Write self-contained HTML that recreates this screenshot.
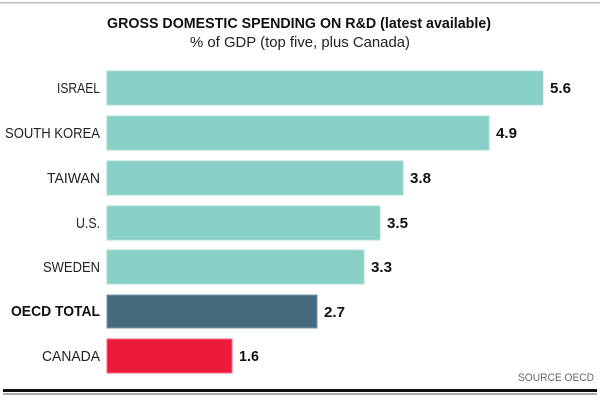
<!DOCTYPE html>
<html><head><meta charset="utf-8"><style>
html,body{margin:0;padding:0;background:#fff;}
svg{display:block;font-family:"Liberation Sans",sans-serif;}
</style></head><body>
<svg width="600" height="400" viewBox="0 0 600 400">
<rect x="0" y="2" width="600" height="1.5" fill="#bbb"/>
<text x="107" y="28" textLength="384" lengthAdjust="spacingAndGlyphs" font-size="15" font-weight="bold" fill="#111">GROSS DOMESTIC SPENDING ON R&amp;D (latest available)</text>
<text x="190" y="47" textLength="220" lengthAdjust="spacingAndGlyphs" font-size="14.5" fill="#222">% of GDP (top five, plus Canada)</text>
<g font-size="14.5" fill="#222">
<text x="57" y="93" textLength="43" lengthAdjust="spacingAndGlyphs">ISRAEL</text>
<text x="5" y="138" textLength="95" lengthAdjust="spacingAndGlyphs">SOUTH KOREA</text>
<text x="47" y="183" textLength="53" lengthAdjust="spacingAndGlyphs">TAIWAN</text>
<text x="76" y="228" textLength="24" lengthAdjust="spacingAndGlyphs">U.S.</text>
<text x="43" y="272" textLength="57" lengthAdjust="spacingAndGlyphs">SWEDEN</text>
<text x="11" y="316" textLength="89" lengthAdjust="spacingAndGlyphs" font-weight="bold" fill="#111" font-size="15">OECD TOTAL</text>
<text x="42" y="361" textLength="58" lengthAdjust="spacingAndGlyphs">CANADA</text>
</g>
<g stroke-width="1">
<rect x="107" y="71" width="436" height="34" fill="#88d0c6" stroke="#a8dcd4"/>
<rect x="107" y="116" width="382" height="34" fill="#88d0c6" stroke="#a8dcd4"/>
<rect x="107" y="161" width="296" height="34" fill="#88d0c6" stroke="#a8dcd4"/>
<rect x="107" y="206" width="273" height="34" fill="#88d0c6" stroke="#a8dcd4"/>
<rect x="107" y="250" width="257" height="34" fill="#88d0c6" stroke="#a8dcd4"/>
<rect x="107" y="295" width="210" height="33" fill="#456b7f" stroke="#7a9aaa"/>
<rect x="107" y="339" width="125" height="34" fill="#ee1a3c" stroke="#f06a80"/>
</g>
<g font-size="15" font-weight="bold" fill="#111">
<text x="550" y="93" textLength="21" lengthAdjust="spacingAndGlyphs">5.6</text>
<text x="496" y="138" textLength="21" lengthAdjust="spacingAndGlyphs">4.9</text>
<text x="410" y="183" textLength="21" lengthAdjust="spacingAndGlyphs">3.8</text>
<text x="387" y="228" textLength="21" lengthAdjust="spacingAndGlyphs">3.5</text>
<text x="371" y="272" textLength="21" lengthAdjust="spacingAndGlyphs">3.3</text>
<text x="324" y="317" textLength="21" lengthAdjust="spacingAndGlyphs">2.7</text>
<text x="239" y="361" textLength="20" lengthAdjust="spacingAndGlyphs">1.6</text>
</g>
<text x="518" y="381" textLength="76" lengthAdjust="spacingAndGlyphs" font-size="11" fill="#666">SOURCE OECD</text>
<rect x="3" y="389" width="594" height="3" fill="#111"/>
<rect x="3" y="393.5" width="594" height="1" fill="#555"/>
</svg>
</body></html>
